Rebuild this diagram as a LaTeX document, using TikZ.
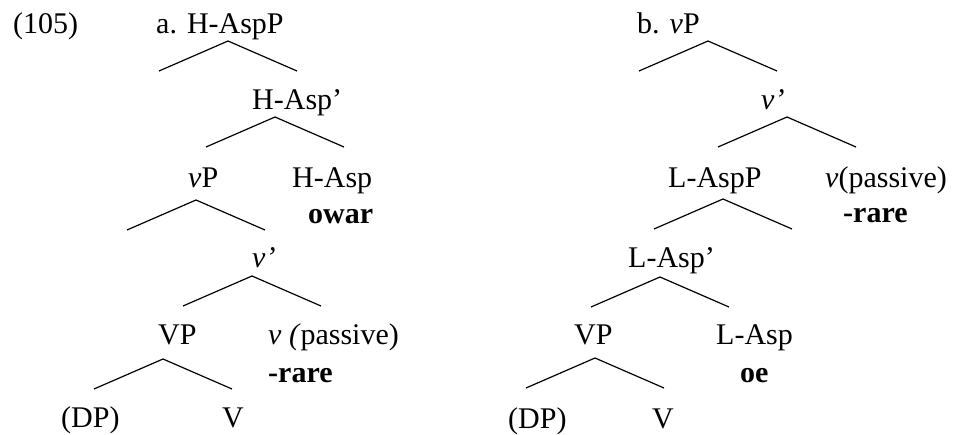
\documentclass[tikz,border=0pt]{standalone}
\usepackage{fontspec}
\setmainfont{Liberation Serif}
\usetikzlibrary{calc}
\tikzset{
  lbl/.style ={anchor=base west,inner sep=0pt,font=\fontsize{30}{36}\selectfont},
  gloss/.style={lbl,font=\fontsize{30}{36}\selectfont\bfseries},
  branch/.style={draw=black,line width=1.2pt},
}
\begin{document}
\begin{tikzpicture}[x=1pt,y=-1pt]
\useasboundingbox (0,0) rectangle (961,434);
% tree (a)
\node[lbl] (ex)    at (13,33)   {(105)};
\node[lbl] (aHP)   at (156,33)  {a. H-AspP};
\node[lbl] (aHbar) at (252,109) {H-Asp'};
\node[lbl] (avP)   at (188,187) {\textit{v}P};
\node[lbl] (aH)    at (292,187) {H-Asp};
\node[gloss] (aowar) at (308,223) {owar};
\node[lbl] (avbar) at (252,267) {\textit{v'}};
\node[lbl] (aVP)   at (158,344) {VP};
\node[lbl] (av)    at (268,344) {\textit{v (}passive)};
\node[gloss] (arare) at (268,382) {-rare};
\node[lbl] (aDP)   at (61,427)  {(DP)};
\node[lbl] (aV)    at (222,427) {V};
% tree (b)
\node[lbl] (bvP)   at (637,33)  {b. \textit{v}P};
\node[lbl] (bvbar) at (761,109) {\textit{v'}};
\node[lbl] (bLP)   at (668,187) {L-AspP};
\node[lbl] (bv)    at (825,187) {\textit{v}(passive)};
\node[gloss] (brare) at (843,222) {-rare};
\node[lbl] (bLbar) at (628,267) {L-Asp'};
\node[lbl] (bVP)   at (574,344) {VP};
\node[lbl] (bL)    at (716,344) {L-Asp};
\node[gloss] (boe) at (740,382) {oe};
\node[lbl] (bDP)   at (508,428) {(DP)};
\node[lbl] (bV)    at (652,428) {V};
% branches
\foreach \w/\x/\y in {wa1/228/41,wa2/275/117,wa3/196/200,wa4/252/276,wa5/163/359,
                      wb1/708/41,wb2/787/117,wb3/723/199,wb4/660/277,wb5/595/358}{
  \coordinate (\w) at (\x,\y);
  \coordinate (\w-l) at ($(\w)+(-69,30)$);
  \coordinate (\w-r) at ($(\w)+(69,30)$);
  \draw[branch] (\w-l) -- (\w) -- (\w-r);
}
\end{tikzpicture}
\end{document}
